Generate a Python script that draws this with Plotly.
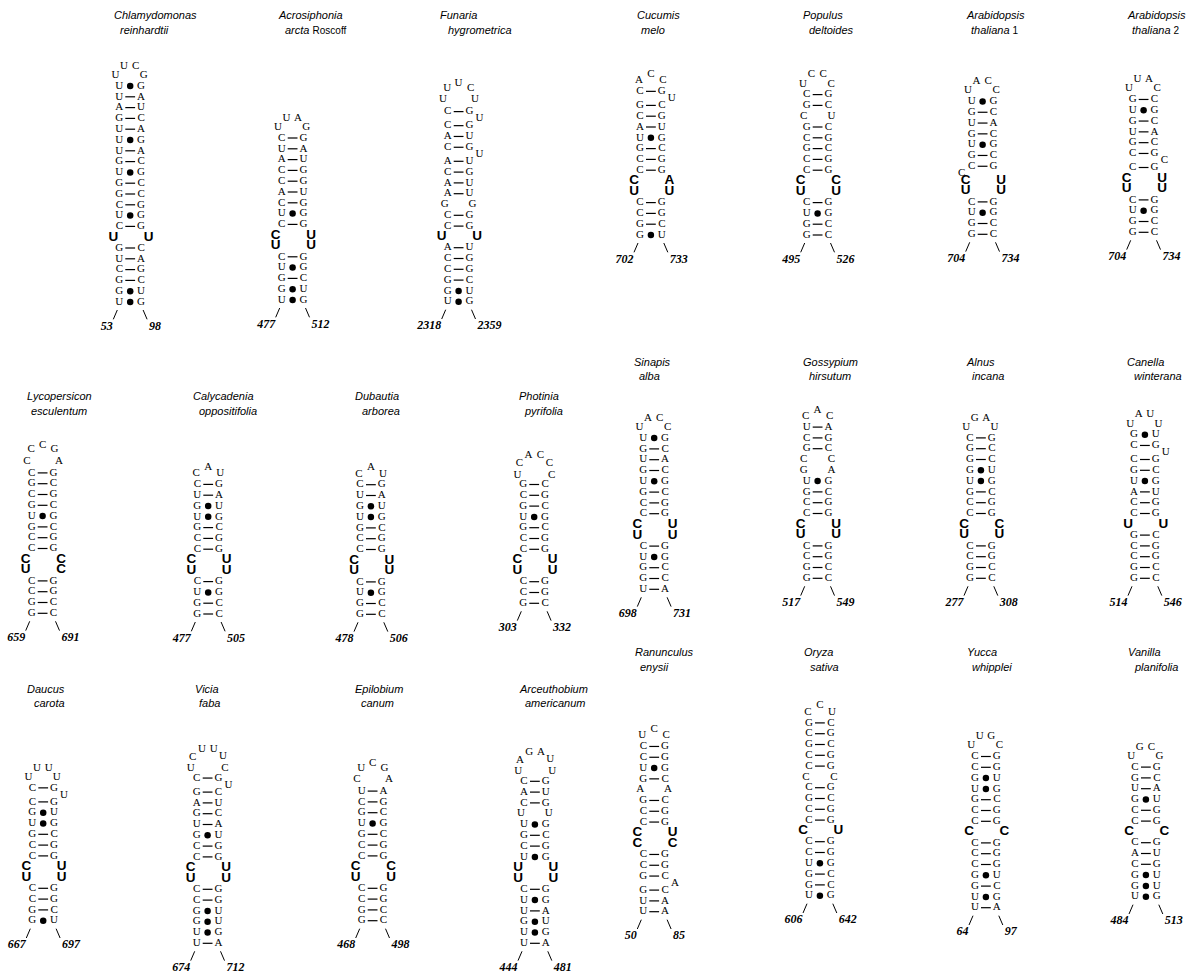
import plotly.graph_objects as go

# ---------------- data ----------------
GENUS = ["Chlamydomonas", "Acrosiphonia", "Funaria", "Cucumis", "Populus", "Arabidopsis", "Arabidopsis",
         "Lycopersicon", "Calycadenia", "Dubautia", "Photinia",
         "Sinapis", "Gossypium", "Alnus", "Canella",
         "Daucus", "Vicia", "Epilobium", "Arceuthobium",
         "Ranunculus", "Oryza", "Yucca", "Vanilla"]
EPITHET = ["reinhardtii", "arcta", "hygrometrica", "melo", "deltoides", "thaliana", "thaliana",
           "esculentum", "oppositifolia", "arborea", "pyrifolia",
           "alba", "hirsutum", "incana", "winterana",
           "carota", "faba", "canum", "americanum",
           "enysii", "sativa", "whipplei", "planifolia"]
QUALIFIER = ["", "Roscoff", "", "", "", "1", "2",
             "", "", "", "",
             "", "", "", "",
             "", "", "", "",
             "", "", "", ""]
# hairpin loop, read 5' -> 3'
LOOP = ["UUCG", "UUAG", "UUUCU", "ACC", "UCCC", "UACC", "UUAC",
        "CCCGA", "CAU", "CAU", "UCACCC",
        "UACC", "CAC", "UGAU", "UAUU",
        "UUUU", "UCUUUC", "CUCGA", "UAGAUU",
        "UCC", "CCU", "UUGC", "UGCG"]
# stem rows, top -> bottom.  X-Y pair, X.Y wobble (dot), X_Y unpaired,
# >X right bulge, X< left bulge, lower case = bold nucleotide
STEM = [
    "U.G U-A A-U G-C U-A U.G U-A G-C U.G G-C G-C C-G U.G C-G u_u G-C U-A C-G G-C G.U U.G",
    "C-G U-A A-U C-G C-G A-U C-G U.G C-G c_u u_u C-G U.G G-C G.U U.G",
    "C-G >U C-G A-U C-G >U A-U C-G A-U A-U G_G C-G C-G u_u A-U C-G C-G G-C G.U U.G",
    "C-G >U G-C C-G A-U U.G G-C C-G C-G c_a u_u C-G C-G G-C G.U",
    "C-G G-C C_U G-C C-G G-C C-G C-G c_c u_u C-G U.G G-C G-C",
    "U.G G-C U-A G-C U.G G-C C-G C< c_u u_u C-G U.G G-C G-C",
    "G-C U.G G-C U-A G-C C-G >C C-G c_u u_u C-G U.G G-C G-C",
    "C-G G-C C-G G-C U.G G-C C-G C-G c_c u_c C-G C-G G-C G-C",
    "C-G U-A G.U U.G G-C C-G C-G c_u u_u C-G U.G G-C G-C",
    "C-G U-A G.U U.G G-C C-G C-G c_u u_u C-G U.G G-C G-C",
    "G-C C-G G-C U.G G-C C-G C-G c_u u_u C-G C-G G-C",
    "U.G G-C U-A G-C U.G G-C C-G C-G c_u u_u C-G U.G G-C G-C U-A",
    "U-A C-G G-C C_C G_A U.G G-C C-G C-G c_u u_u C-G C-G G-C G-C",
    "C-G G-C G-C G.U U.G G-C C-G C-G c_c u_u C-G C-G G-C G-C",
    "G.U C-G >U C-G G-C U.G A-U C-G C-G u_u G-C C-G C-G G-C G-C",
    "C-G >U C-G G.U U.G G-C C-G C-G c_u u_u C-G C-G G-C G.U",
    "C-G >U G-C A-U G-C U-A G.U C-G C-G c_u u_u C-G C-G G.U G.U U.G U-A",
    "U-A C-G G-C U.G G-C C-G C-G c_c u_u C-G C-G G-C G-C",
    "C-G A-U C-G U_U U.G G-C C-G U.G u_u u_u C-G U.G U-A G.U U.G U-A",
    "C-G C-G U.G G-C A_A G-C C-G C-G c_u c_c C-G C-G G-C >A G-C U-A U-A",
    "G-C C-G G-C C-G C-G C_C C-G G-C C-G C-G c_u C-G C-G U.G G-C G-C U.G",
    "C-G C-G G.U U.G G-C C-G C-G c_c C-G C-G C-G G.U G-C U.G U-A",
    "C-G G-C U-A G.U C-G C-G c_c C-G A-U C-G G.U G.U U.G",
]
POS5 = [53, 477, 2318, 702, 495, 704, 704, 659, 477, 478, 303, 698, 517, 277, 514,
        667, 674, 468, 444, 50, 606, 64, 484]
POS3 = [98, 512, 2359, 733, 526, 734, 734, 691, 505, 506, 332, 731, 549, 308, 546,
        697, 712, 498, 481, 85, 642, 97, 513]

# ---------------- placement (page pixels) ----------------
ANCHOR_X = [119.3, 281.7, 447.7, 640, 806.7, 971.7, 1132.7,
            31.7, 197.3, 360, 523.3,
            643.3, 806.7, 970, 1134,
            32.3, 196.7, 361.7, 524,
            643.3, 809, 975, 1135]
ANCHOR_Y = [302, 300, 301.7, 235, 235, 234.3, 232.3,
            613.3, 614, 614.3, 603.3,
            589.3, 578.3, 578.3, 578.3,
            920.7, 943.3, 920.7, 943.3,
            911.7, 895.7, 907.7, 896.7]
TITLE_X1 = [111.7, 276, 438.3, 635, 801, 964.3, 1125,
            25, 190.7, 353.3, 516.7,
            631.7, 800.7, 964, 1125,
            25, 192.7, 353.3, 516.7,
            632.7, 801.7, 965, 1126]
TITLE_X2 = [118.3, 282.7, 446, 639.3, 807.3, 969, 1130,
            29.3, 196.7, 360, 521.7,
            636.7, 807.3, 970, 1131.7,
            31.7, 197.3, 359.3, 522.7,
            638.3, 808.3, 970, 1131.7]
TITLE_Y = [15] * 7 + [396] * 4 + [361.5] * 4 + [688.5] * 4 + [652] * 4

DX = 21.8
DY = 10.8
BULGE_EXTRA = 0.3
LOOP_SHAPES = {
    3: [(-0.05, 1.0), (0.5, 1.6), (1.05, 1.0)],
    4: [(-0.17, 1.0), (0.22, 1.85), (0.75, 1.85), (1.12, 1.0)],
    5: [(-0.22, 1.1), (-0.02, 2.15), (0.5, 2.6), (1.05, 2.15), (1.25, 1.1)],
    6: [(-0.27, 0.9), (-0.18, 1.95), (0.24, 2.7), (0.78, 2.7), (1.2, 2.0), (1.3, 0.9)],
}

nx, ny, nt = [], [], []
bx, by, bt = [], [], []
dash_x, dash_y = [], []
dot_x, dot_y = [], []
seg_x, seg_y = [], []
numx, numy, numt = [], [], []

for i in range(len(GENUS)):
    xl = ANCHOR_X[i]
    xr = xl + DX
    xc = (xl + xr) / 2
    yb = ANCHOR_Y[i]
    y = None
    pending = None
    for tok in reversed(STEM[i].split()):
        if tok.startswith(">") or tok.endswith("<"):
            pending = tok
            continue
        if y is None:
            y = yb
        else:
            step = DY * (1 + (BULGE_EXTRA if pending else 0))
            y_new = y - step
            if pending:
                ym = (y + y_new) / 2
                if pending.startswith(">"):
                    nx.append(xr + 10); ny.append(ym); nt.append(pending[1])
                else:
                    nx.append(xl - 10); ny.append(ym); nt.append(pending[0])
                pending = None
            y = y_new
        L, c, R = tok[0], tok[1], tok[2]
        if c in "-.":
            nx += [xl, xr]; ny += [y, y]; nt += [L, R]
            if c == "-":
                dash_x.append(xc); dash_y.append(y)
            else:
                dot_x.append(xc); dot_y.append(y)
        else:
            for ch, side in ((L, -1), (R, 1)):
                if ch.islower():
                    bx.append(xl - 6 if side < 0 else xr + 7.5)
                    by.append(y); bt.append(ch.upper())
                else:
                    nx.append(xl - 3 if side < 0 else xr + 3)
                    ny.append(y); nt.append(ch)
    ytop = y
    for (u, v), ch in zip(LOOP_SHAPES[len(LOOP[i])], LOOP[i]):
        nx.append(xl + u * DX); ny.append(ytop - v * DY); nt.append(ch)
    seg_x += [xl - 2, xl - 6, None, xr + 2, xr + 6, None]
    seg_y += [yb + 8, yb + 17.3, None, yb + 8, yb + 17.3, None]
    s5, s3 = str(POS5[i]), str(POS3[i])
    numx += [xl - 6.5 - 3 * len(s5), xr + 8 + 3 * len(s3)]
    numy += [yb + 24.5, yb + 24.5]
    numt += ["<b><i>%s</i></b>" % s5, "<b><i>%s</i></b>" % s3]

fig = go.Figure()
fig.add_trace(go.Scatter(x=seg_x, y=seg_y, mode="lines",
                         line=dict(color="black", width=1), hoverinfo="skip"))
fig.add_trace(go.Scatter(x=dash_x, y=dash_y, mode="markers", hoverinfo="skip",
                         marker=dict(symbol="line-ew", size=7,
                                     line=dict(color="black", width=1.2))))
fig.add_trace(go.Scatter(x=dot_x, y=dot_y, mode="markers", hoverinfo="skip",
                         marker=dict(symbol="circle", size=6.5, color="black")))
fig.add_trace(go.Scatter(x=nx, y=ny, text=nt, mode="text", hoverinfo="skip",
                         textposition="middle center",
                         textfont=dict(family="Liberation Serif", size=11, color="black")))
fig.add_trace(go.Scatter(x=bx, y=by, text=["<b>%s</b>" % t for t in bt], mode="text",
                         hoverinfo="skip", textposition="middle center",
                         textfont=dict(family="Liberation Sans", size=13.5, color="black")))
fig.add_trace(go.Scatter(x=numx, y=numy, text=numt, mode="text", hoverinfo="skip",
                         textposition="middle center",
                         textfont=dict(family="Liberation Serif", size=12, color="black")))

annotations = []
for i in range(len(GENUS)):
    annotations.append(dict(x=TITLE_X1[i], y=TITLE_Y[i], xref="x", yref="y",
                            text="<i>%s</i>" % GENUS[i], showarrow=False,
                            xanchor="left", yanchor="middle",
                            font=dict(family="Liberation Sans", size=11, color="black")))
    t2 = "<i>%s</i>" % EPITHET[i]
    if QUALIFIER[i]:
        t2 += " <span style='font-size:10px'>%s</span>" % QUALIFIER[i]
    annotations.append(dict(x=TITLE_X2[i], y=TITLE_Y[i] + 14.5, xref="x", yref="y",
                            text=t2, showarrow=False, xanchor="left", yanchor="middle",
                            font=dict(family="Liberation Sans", size=11, color="black")))

fig.update_layout(
    width=1192, height=975,
    margin=dict(l=0, r=0, t=0, b=0),
    paper_bgcolor="white", plot_bgcolor="white",
    showlegend=False,
    xaxis=dict(range=[0, 1192], visible=False, fixedrange=True),
    yaxis=dict(range=[975, 0], visible=False, fixedrange=True),
    annotations=annotations,
)

fig.write_html("out.html", config={"displayModeBar": False},
               post_script="document.body.style.margin='0';document.body.style.overflow='hidden';")
